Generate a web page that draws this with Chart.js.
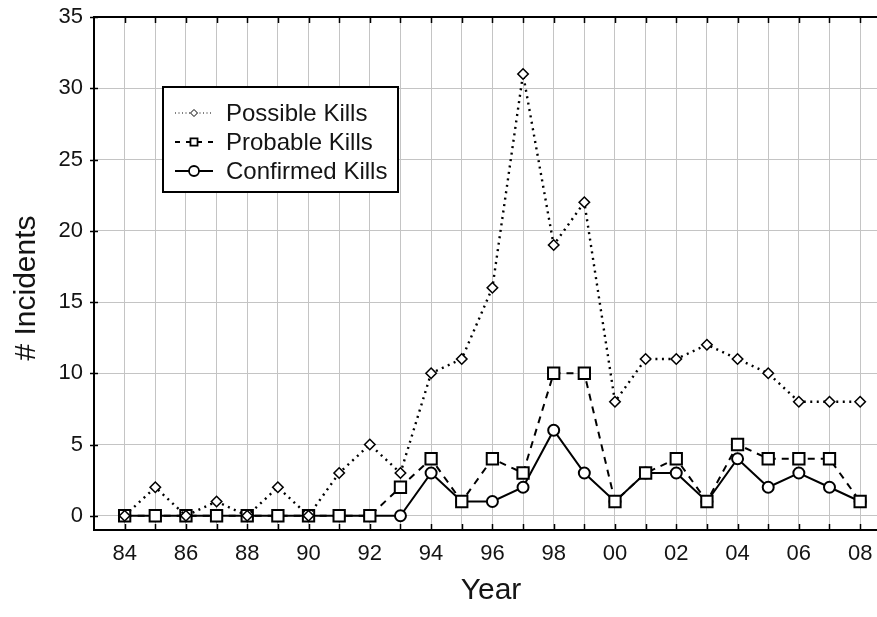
<!DOCTYPE html>
<html>
<head>
<meta charset="utf-8">
<title>Incidents per year</title>
<script src="https://cdn.jsdelivr.net/npm/chart.js@4.4.0/dist/chart.umd.min.js"></script>
<style>
  html, body { margin: 0; padding: 0; background: #fff; overflow: hidden; }
  #wrap { width: 877px; height: 617px; }
  canvas { display: block; }
</style>
</head>
<body>
<div id="wrap"><canvas id="myChart" width="877" height="617"></canvas></div>
<script>
// data
const years = [1984, 1985, 1986, 1987, 1988, 1989, 1990, 1991, 1992, 1993, 1994, 1995, 1996,
  1997, 1998, 1999, 2000, 2001, 2002, 2003, 2004, 2005, 2006, 2007, 2008];
const possibleKills = [0, 2, 0, 1, 0, 2, 0, 3, 5, 3, 10, 11, 16, 31, 19, 22, 8, 11, 11, 12, 11, 10, 8, 8, 8];
const probableKills = [0, 0, 0, 0, 0, 0, 0, 0, 0, 2, 4, 1, 4, 3, 10, 10, 1, 3, 4, 1, 5, 4, 4, 4, 1];
const confirmedKills = [0, 0, 0, 0, 0, 0, 0, 0, 0, 0, 3, 1, 1, 2, 6, 3, 1, 3, 3, 1, 4, 2, 3, 2, 1];
const yTicks = [0, 5, 10, 15, 20, 25, 30, 35];
const xTitle = "Year";
const yTitle = "# Incidents";

const FONT = "'Liberation Sans', Arial, sans-serif";
const TEXT = "#141414";

function pts(arr) {
  return years.map((y, i) => ({ x: y, y: arr[i] }));
}

// inward tick marks, top border and the two axis titles
const frame = {
  id: "frame",
  afterDatasetsDraw(chart) {
    const ctx = chart.ctx;
    const a = chart.chartArea;
    const xs = chart.scales.x, ys = chart.scales.y;
    ctx.save();
    ctx.strokeStyle = "#000";
    ctx.lineWidth = 1.5;
    ctx.beginPath();
    years.forEach((y) => {
      const px = Math.round(xs.getPixelForValue(y)) + 0.5;
      ctx.moveTo(px, a.bottom);
      ctx.lineTo(px, a.bottom - 6);
      ctx.moveTo(px, a.top);
      ctx.lineTo(px, a.top + 6);
    });
    yTicks.forEach((v) => {
      const py = Math.round(ys.getPixelForValue(v)) + 0.5;
      ctx.moveTo(a.left - 4, py);
      ctx.lineTo(a.left + 4, py);
    });
    ctx.stroke();
    ctx.lineWidth = 2;
    ctx.beginPath();
    ctx.moveTo(a.left, a.top);
    ctx.lineTo(a.right, a.top);
    ctx.stroke();

    ctx.fillStyle = TEXT;
    ctx.font = "30px " + FONT;
    ctx.textAlign = "center";
    ctx.textBaseline = "middle";
    ctx.fillText(xTitle, 491, 591);
    ctx.translate(27, 288);
    ctx.rotate(-Math.PI / 2);
    ctx.fillText(yTitle, 0, 0);
    ctx.restore();
  }
};

function marker(ctx, style, r, x, y, bw) {
  ctx.save();
  ctx.setLineDash([]);
  ctx.lineWidth = bw;
  ctx.strokeStyle = "#000";
  ctx.fillStyle = "#fff";
  ctx.beginPath();
  if (style === "circle") {
    ctx.arc(x, y, r, 0, Math.PI * 2);
  } else if (style === "rect") {
    const s = Math.SQRT1_2 * r;
    ctx.rect(x - s, y - s, 2 * s, 2 * s);
  } else {
    ctx.moveTo(x, y - r); ctx.lineTo(x + r, y); ctx.lineTo(x, y + r); ctx.lineTo(x - r, y); ctx.closePath();
  }
  ctx.fill();
  ctx.stroke();
  ctx.restore();
}

// legend box inside the plot
const boxLegend = {
  id: "boxLegend",
  afterDraw(chart) {
    const ctx = chart.ctx;
    const bx = 163, by = 87, bw = 235, bh = 105;
    ctx.save();
    ctx.fillStyle = "#fff";
    ctx.fillRect(bx, by, bw, bh);
    ctx.lineWidth = 2;
    ctx.strokeStyle = "#000";
    ctx.strokeRect(bx, by, bw, bh);
    const rows = [113, 142, 171];
    const legendR = [3.5, 5, 5];
    chart.data.datasets.forEach((ds, i) => {
      const y = rows[i];
      ctx.save();
      ctx.strokeStyle = "#000";
      ctx.lineWidth = i === 0 ? 1 : 2;
      ctx.setLineDash(i === 0 ? [1, 2.5] : (i === 1 ? [5, 6] : []));
      ctx.beginPath();
      ctx.moveTo(175, y);
      ctx.lineTo(213, y);
      ctx.stroke();
      ctx.restore();
      marker(ctx, ds.pointStyle, legendR[i], 194, y, i === 0 ? 1 : 1.8);
      ctx.fillStyle = TEXT;
      ctx.font = "24px " + FONT;
      ctx.textBaseline = "middle";
      ctx.textAlign = "left";
      ctx.fillText(ds.label, 226, y + 1);
    });
    ctx.restore();
  }
};

const common = {
  borderColor: "#000",
  pointBorderColor: "#000",
  pointBackgroundColor: "#fff",
  fill: false,
  tension: 0,
  clip: false
};

new Chart(document.getElementById("myChart").getContext("2d"), {
  type: "line",
  data: {
    datasets: [
      Object.assign({}, common, {
        label: "Possible Kills",
        data: pts(possibleKills),
        borderWidth: 2.4,
        borderDash: [2, 4.5],
        pointStyle: "rectRot",
        pointRadius: 5.2,
        pointBorderWidth: 1.6
      }),
      Object.assign({}, common, {
        label: "Probable Kills",
        data: pts(probableKills),
        borderWidth: 2,
        borderDash: [7, 6],
        pointStyle: "rect",
        pointRadius: 8,
        pointBorderWidth: 2
      }),
      Object.assign({}, common, {
        label: "Confirmed Kills",
        data: pts(confirmedKills),
        borderWidth: 2,
        pointStyle: "circle",
        pointRadius: 5.5,
        pointBorderWidth: 2
      })
    ]
  },
  options: {
    responsive: false,
    animation: false,
    devicePixelRatio: 1,
    layout: { autoPadding: false, padding: { top: 17, right: 0, bottom: 0, left: 0 } },
    plugins: {
      legend: { display: false },
      tooltip: { enabled: false }
    },
    scales: {
      x: {
        type: "linear",
        min: 1983,
        max: 2008.55,
        grid: { color: "#c4c4c4", lineWidth: 1, drawTicks: false },
        border: { display: true, color: "#000", width: 2 },
        afterBuildTicks: (s) => { s.ticks = years.map((v) => ({ value: v })); },
        afterFit: (s) => { s.height = 87; s.paddingLeft = 0; s.paddingRight = 0; },
        ticks: {
          autoSkip: false,
          maxRotation: 0,
          padding: 11,
          color: TEXT,
          font: { family: FONT, size: 22 },
          callback: (v) => (v % 2 === 0 ? String(v % 100).padStart(2, "0") : "")
        },
        title: { display: false }
      },
      y: {
        min: -1,
        max: 35,
        grid: { color: "#c4c4c4", lineWidth: 1, drawTicks: false },
        border: { display: true, color: "#000", width: 2 },
        afterBuildTicks: (s) => { s.ticks = yTicks.map((v) => ({ value: v })); },
        afterFit: (s) => { s.width = 94; s.paddingTop = 0; s.paddingBottom = 0; },
        ticks: {
          padding: 11,
          color: TEXT,
          font: { family: FONT, size: 22 }
        },
        title: { display: false }
      }
    }
  },
  plugins: [frame, boxLegend]
});
</script>
</body>
</html>
